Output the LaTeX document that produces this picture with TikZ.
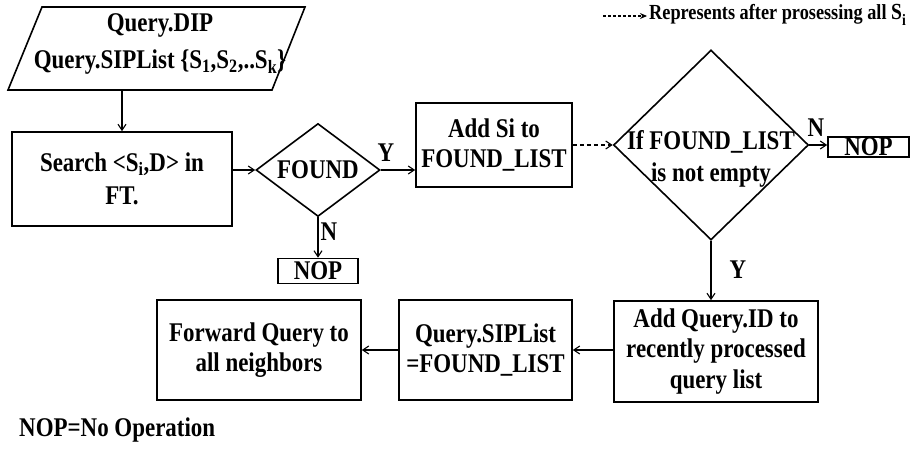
\documentclass[tikz,border=0pt]{standalone}
\usepackage{fontspec}
\setmainfont{Liberation Serif}[FakeStretch=0.85]
\usetikzlibrary{shapes.geometric,arrows.meta}
\begin{document}
\begin{tikzpicture}[x=1pt,y=-1pt,
  font=\fontsize{27}{30.5}\selectfont\bfseries,
  box/.style={draw,line width=1.6pt,rectangle,align=center,inner sep=0pt},
  cond/.style={draw,line width=1.6pt,diamond,inner sep=0pt},
  conn/.style={line width=1.2pt,-{Straight Barb[length=6pt,width=8pt,line width=1.1pt]}},
  lbl/.style={inner sep=0pt}]
\useasboundingbox (0,0) rectangle (911,450);

% input parallelogram
\draw[line width=1.6pt] (42,7) -- (305,7) -- (272,90) -- (8,90) -- cycle;
\coordinate (inbot) at (122,90);
\node[lbl,align=center] (inp) at (160,44) {Query.DIP\\[7pt]Query.SIPList \{S\textsubscript{1},S\textsubscript{2},..S\textsubscript{k}\}};

% process boxes
\node[box,minimum width=220,minimum height=94] (search) at (122,179) {Search {<}S\textsubscript{i},D{>} in\\[3pt]FT.};
\node[cond,minimum width=124,minimum height=93] (found) at (318,170) {};
\node[lbl] (foundtxt) at (318,170) {FOUND};
\node[box,minimum width=156,minimum height=84] (addsi) at (494,145) {Add Si to\\FOUND\_LIST};
\node[cond,minimum width=195,minimum height=190] (notempty) at (711,145) {};
\node[lbl,align=center] (notemptytxt) at (711,159) {If FOUND\_LIST\\[2pt]is not empty};
\node[box,minimum width=81,minimum height=20] (nopb) at (868.5,147) {NOP};
\node[box,minimum width=80,minimum height=25] (nopa) at (318,271) {NOP};
\node[box,minimum width=204,minimum height=101] (addq) at (716,351.5) {Add Query.ID to\\recently processed\\query list};
\node[box,minimum width=173,minimum height=100] (sip) at (485.5,350) {Query.SIPList\\=FOUND\_LIST};
\node[box,minimum width=204,minimum height=100] (fwd) at (259,350) {Forward Query to\\all neighbors};

% connectors
\draw[conn] (inbot) -- (search.north);
\draw[conn] (search.east |- found.west) -- (found.west);
\draw[conn] (found.east) -- (found.east -| addsi.west);
\draw[conn] (found.south) -- (nopa.north);
\draw[conn,dashed,dash pattern=on 4pt off 3pt] (addsi.east) -- (notempty.west);
\draw[conn] (notempty.east) -- (notempty.east -| nopb.west);
\draw[conn] (notempty.south) -- (notempty.south |- addq.north);
\draw[conn] (addq.west |- sip.east) -- (sip.east);
\draw[conn] (sip.west) -- (fwd.east);

% branch labels
\node[lbl] (ya) at (386,153) {Y};
\node[lbl] (na) at (329,232) {N};
\node[lbl] (nb) at (816,128) {N};
\node[lbl] (yb) at (738,270) {Y};

% legend
\coordinate (legs) at (603,16);
\coordinate (lege) at (647,16);
\draw[line width=1.1pt,dash pattern=on 3pt off 2pt,-{Stealth[length=7pt,width=6pt]}] (legs) -- (lege);
\node[lbl,anchor=west,font=\fontsize{21.5}{24}\selectfont\bfseries] (legtxt) at (649,15) {Represents after prosessing all {\fontsize{23}{23}\selectfont S}\raisebox{-6pt}{\fontsize{16}{16}\selectfont i}};
\node[lbl,anchor=west] (nopdef) at (19,430) {NOP=No Operation};
\end{tikzpicture}
\end{document}
